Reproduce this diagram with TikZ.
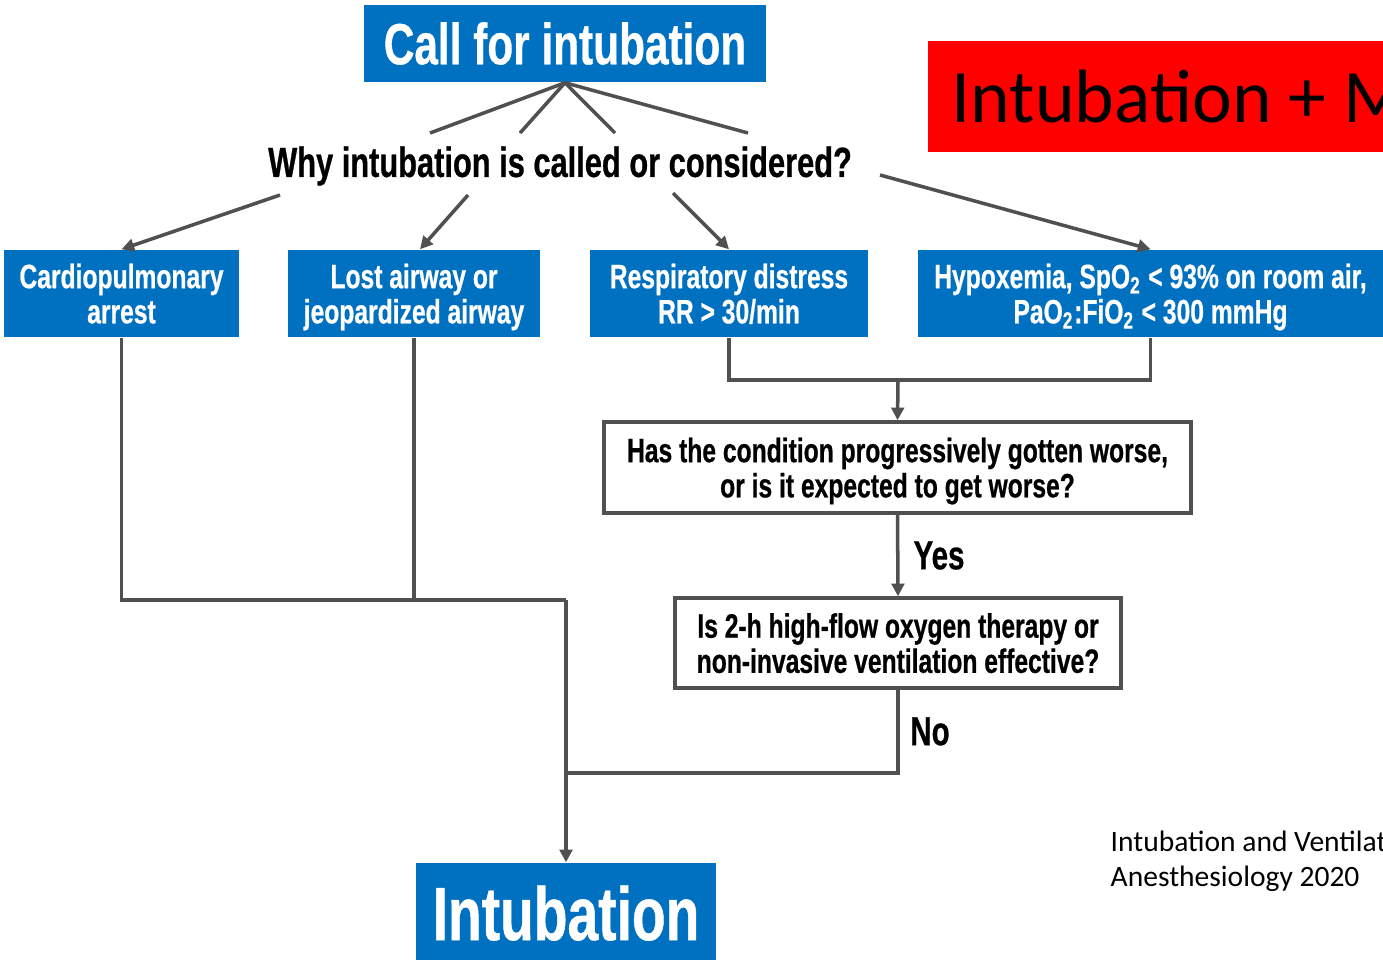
\documentclass[tikz,border=0pt]{standalone}
\usepackage{fontspec}
\usetikzlibrary{arrows.meta,positioning,calc}
\setmainfont{Liberation Sans}
\newfontfamily\narrowsans[FakeStretch=0.73,BoldFeatures={FakeBold=0.6}]{Liberation Sans}
\newfontfamily\slidefont{Carlito}
\definecolor{boxblue}{RGB}{0,112,192}
\definecolor{wire}{RGB}{80,80,80}
\definecolor{slidered}{RGB}{255,0,0}
\tikzset{
  head/.style={fill=boxblue,text=white,inner sep=0pt,align=center,
    font=\narrowsans\bfseries\fontsize{16.5}{18}\selectfont},
  cause/.style={fill=boxblue,text=white,inner sep=0pt,align=center,minimum height=0.87cm,
    text depth=0pt,font=\narrowsans\bfseries\fontsize{9.6}{10}\selectfont},
  ask/.style={draw=wire,line width=1pt,fill=white,inner sep=0pt,align=center,
    text depth=0pt,font=\narrowsans\bfseries\fontsize{9.6}{10}\selectfont},
  tag/.style={inner sep=0pt,anchor=west,font=\narrowsans\bfseries\fontsize{11.5}{12}\selectfont},
  link/.style={draw=wire,line width=1pt},
  arr/.style={link,-{Triangle[length=3.6pt,width=3.6pt]}},
}

\begin{document}
\begin{tikzpicture}[x=0.01cm,y=-0.01cm]
\useasboundingbox (0,0) rectangle (1383,959);
\clip (0,0) rectangle (1383,959);
% question part
\node[head,minimum width=4.02cm,minimum height=0.77cm] (call) at (565,43.5) {Call for intubation};
\node[font=\narrowsans\bfseries\fontsize{12}{13}\selectfont,inner sep=0pt] (why) at (560,166)
  {Why intubation is called or considered?};
\coordinate (f1) at (430,133);
\coordinate (f2) at (520,133);
\coordinate (f3) at (615,133);
\coordinate (f4) at (748,133);
\foreach \f in {f1,f2,f3,f4}
  \draw[link] (call.south) -- (\f);
% causes
\node[cause,minimum width=2.35cm] (cardiac) at (121.5,293.5) {Cardiopulmonary\\arrest};
\node[cause,minimum width=2.52cm] (airway) at (414,293.5) {Lost airway or\\jeopardized airway};
\node[cause,minimum width=2.78cm] (distress) at (729,293.5) {Respiratory distress\\RR > 30/min};
\node[cause,minimum width=4.65cm] (hypox) at (1150.5,293.5)
  {Hypoxemia, SpO\textsubscript{2} < 93\% on room air,\\PaO\textsubscript{2}:FiO\textsubscript{2} < 300 mmHg};
\coordinate (w1) at (280,195);
\coordinate (w2) at (468,195);
\coordinate (w3) at (673,193);
\coordinate (w4) at (880,175);
\draw[arr] (w1) -- (cardiac.north);
\draw[arr] (w2) -- ($(airway.north)+(6,0)$);
\draw[arr] (w3) -- (distress.north);
\draw[arr] (w4) -- (hypox.north);
% worsening branch
\node[ask,minimum width=5.87cm,minimum height=0.91cm] (worse) at (897.5,467.5)
  {Has the condition progressively gotten worse,\\or is it expected to get worse?};
\node[ask,minimum width=4.46cm,minimum height=0.90cm] (hfno) at (898,643)
  {Is 2-h high-flow oxygen therapy or\\non-invasive ventilation effective?};
\coordinate (j1) at (898,380);
\draw[link] (distress.south) |- (j1) -| (hypox.south);
\draw[arr] (j1) -- (worse.north);
\draw[arr] (worse.south) -- node[tag,xshift=4pt] (yes) {Yes} (hfno.north);
% to intubation
\node[head,minimum width=2.99cm,minimum height=1.0cm,
  font=\narrowsans\bfseries\fontsize{21.5}{24}\selectfont] (intub) at (566,913) {Intubation};
\coordinate (j2) at (566,600);
\coordinate (j3) at (566,773);
\draw[link] (cardiac.south) |- (j2);
\draw[link] (airway.south) -- (airway.south |- j2);
\draw[link] (hfno.south) |- node[tag,pos=0.25,xshift=3pt] (no) {No} (j3);
\draw[arr] (j2) -- (intub.north);
% slide text
\node[fill=slidered,anchor=north west,minimum width=4.7cm,minimum height=1.11cm] (title) at (927,40) {};
\node[anchor=west,inner sep=0pt,font=\slidefont\fontsize{21.5}{24}\selectfont] (titletext)
  at ($(title.west)+(24,0)$) {Intubation + M};
\node[anchor=north west,inner sep=0pt,align=left,
  font=\slidefont\fontsize{8.4}{10}\selectfont] (cite) at (1110,830)
  {Intubation and Ventilat\\Anesthesiology 2020};
\end{tikzpicture}
\end{document}
